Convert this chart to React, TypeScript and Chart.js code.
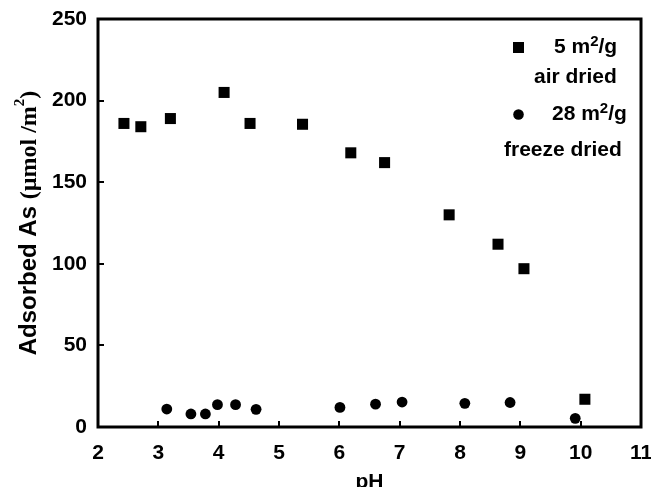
import React, { useEffect, useRef } from "react";
import { Chart, registerables } from "chart.js";

Chart.register(...registerables);

// pH values and adsorbed As (µmol/m²)
const airDriedPH = [2.43, 2.71, 3.2, 4.09, 4.52, 5.39, 6.19, 6.75, 7.82, 8.63, 9.06, 10.07];
const airDriedAs = [186, 184, 189, 205, 186, 185.5, 168, 162, 130, 112, 97, 17];
const freezeDriedPH = [3.14, 3.54, 3.78, 3.98, 4.28, 4.62, 6.01, 6.6, 7.04, 8.08, 8.83, 9.91];
const freezeDriedAs = [11, 8, 8, 13.7, 13.7, 10.8, 12, 14, 15.3, 14.5, 15, 5.3];

const xTickValues = [2, 3, 4, 5, 6, 7, 8, 9, 10, 11];
const yTickValues = [0, 50, 100, 150, 200, 250];

const SANS = '"Liberation Sans", Arial, sans-serif';
const SERIF = '"Liberation Serif", "Times New Roman", serif';

type Part = { t: string; font: string; dy: number };

function drawParts(ctx: CanvasRenderingContext2D, parts: Part[], x: number, y: number, align: "left" | "center") {
  let total = 0;
  for (const p of parts) {
    ctx.font = p.font;
    total += ctx.measureText(p.t).width;
  }
  let cx = align === "center" ? x - total / 2 : x;
  ctx.textAlign = "left";
  ctx.textBaseline = "alphabetic";
  for (const p of parts) {
    ctx.font = p.font;
    ctx.fillText(p.t, cx, y + p.dy);
    cx += ctx.measureText(p.t).width;
  }
}

export default function App() {
  const ref = useRef<HTMLCanvasElement>(null);

  useEffect(() => {
    document.body.style.margin = "0";
    const canvas = ref.current;
    if (!canvas) return;

    const decorPlugin = {
      id: "decor",
      afterDraw(chart: any) {
        const { ctx, chartArea: a, scales } = chart;
        ctx.save();
        ctx.strokeStyle = "#000";
        ctx.fillStyle = "#000";
        // inward tick marks
        ctx.lineWidth = 2;
        ctx.beginPath();
        for (const v of xTickValues) {
          const px = Math.round(scales.x.getPixelForValue(v));
          ctx.moveTo(px, a.bottom);
          ctx.lineTo(px, a.bottom - 6);
        }
        for (const v of yTickValues) {
          const py = Math.round(scales.y.getPixelForValue(v));
          ctx.moveTo(a.left, py);
          ctx.lineTo(a.left + 6, py);
        }
        ctx.stroke();
        // frame
        ctx.lineWidth = 3;
        ctx.strokeRect(a.left, a.top, a.right - a.left, a.bottom - a.top);

        // y axis title
        ctx.save();
        ctx.translate(36, (a.top + a.bottom) / 2);
        ctx.rotate(-Math.PI / 2);
        drawParts(
          ctx,
          [
            { t: "Adsorbed As ", font: `bold 24px ${SANS}`, dy: 0 },
            { t: "(\u00B5mol /m", font: `bold 24px ${SERIF}`, dy: 0 },
            { t: "2", font: `bold 15px ${SERIF}`, dy: -12 },
            { t: ")", font: `bold 24px ${SERIF}`, dy: 0 },
          ],
          0,
          0,
          "center"
        );
        ctx.restore();

        // x axis title
        ctx.font = `bold 21px ${SANS}`;
        ctx.textAlign = "center";
        ctx.textBaseline = "alphabetic";
        ctx.fillText("pH", (a.left + a.right) / 2, 488);

        // legend
        ctx.fillRect(513, 42, 11, 11);
        ctx.beginPath();
        ctx.arc(518.5, 114.5, 5.3, 0, Math.PI * 2);
        ctx.fill();
        const big = `bold 21px ${SANS}`;
        const sup = `bold 15px ${SANS}`;
        drawParts(ctx, [
          { t: "5 m", font: big, dy: 0 },
          { t: "2", font: sup, dy: -7 },
          { t: "/g", font: big, dy: 0 },
        ], 554, 53, "left");
        drawParts(ctx, [{ t: "air dried", font: big, dy: 0 }], 534, 83, "left");
        drawParts(ctx, [
          { t: "28 m", font: big, dy: 0 },
          { t: "2", font: sup, dy: -7 },
          { t: "/g", font: big, dy: 0 },
        ], 552, 120, "left");
        drawParts(ctx, [{ t: "freeze dried", font: big, dy: 0 }], 504, 156, "left");
        ctx.restore();
      },
    };

    const tickFont = { family: SANS, size: 21, weight: "bold" as const };

    const chart = new Chart(canvas, {
      type: "scatter",
      data: {
        datasets: [
          {
            label: "5 m2/g air dried",
            data: airDriedPH.map((x, i) => ({ x, y: airDriedAs[i] })),
            pointStyle: "rect",
            pointRadius: 7.8,
            backgroundColor: "#000",
            borderWidth: 0,
          },
          {
            label: "28 m2/g freeze dried",
            data: freezeDriedPH.map((x, i) => ({ x, y: freezeDriedAs[i] })),
            pointStyle: "circle",
            pointRadius: 5.4,
            backgroundColor: "#000",
            borderWidth: 0,
          },
        ],
      },
      options: {
        animation: false,
        responsive: false,
        events: [],
        layout: { padding: { top: 19, right: 10, left: 0, bottom: 0 } },
        plugins: {
          legend: { display: false },
          tooltip: { enabled: false },
        },
        scales: {
          x: {
            type: "linear",
            min: 2,
            max: 11,
            grid: { display: false, drawTicks: false },
            border: { display: false },
            ticks: { stepSize: 1, color: "#000", font: tickFont, padding: 14, maxRotation: 0 },
            afterFit(scale: any) {
              scale.height = 60;
              scale.paddingLeft = 0;
              scale.paddingRight = 0;
            },
          },
          y: {
            type: "linear",
            min: 0,
            max: 250,
            grid: { display: false, drawTicks: false },
            border: { display: false },
            ticks: { stepSize: 50, color: "#000", font: tickFont, padding: 11 },
            afterFit(scale: any) {
              scale.width = 98;
              scale.paddingTop = 0;
              scale.paddingBottom = 0;
            },
          },
        },
      },
      plugins: [decorPlugin],
    });

    return () => chart.destroy();
  }, []);

  return (
    <div style={{ width: 651, height: 487, background: "#fff" }}>
      <canvas ref={ref} width={651} height={487} style={{ display: "block", width: 651, height: 487 }} />
    </div>
  );
}
